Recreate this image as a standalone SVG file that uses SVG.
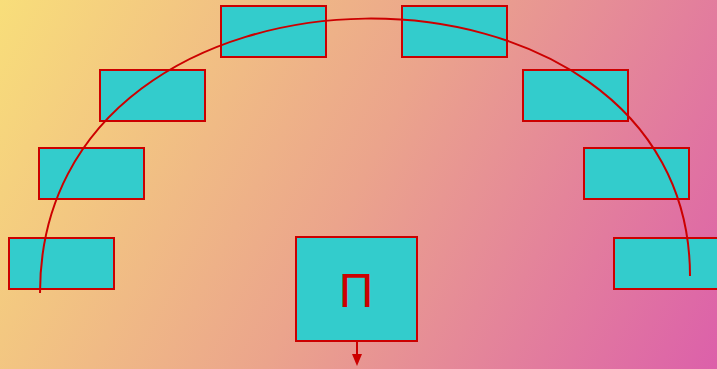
<svg xmlns="http://www.w3.org/2000/svg" width="717" height="369" viewBox="0 0 717 369">
<defs>
<linearGradient id="bg" gradientUnits="userSpaceOnUse" x1="0" y1="0" x2="717" y2="369">
<stop offset="0" stop-color="#F8DE7A"/>
<stop offset="0.5" stop-color="#EBA48C"/>
<stop offset="1" stop-color="#DC60AA"/>
</linearGradient>
<marker id="arrow" markerWidth="12" markerHeight="10" refX="0" refY="5" orient="auto" markerUnits="userSpaceOnUse" viewBox="0 0 12 10">
<path d="M0,0 L12,5 L0,10 Z" fill="#CC0000"/>
</marker>
<style>
.box{fill:#33CCCC;stroke:#CC0000;stroke-width:2}
.conn{fill:none;stroke:#CC0000;stroke-width:2}
.lbl{font-family:"Liberation Sans",Arial,sans-serif;font-size:48px;fill:#CC0000;text-anchor:middle}
</style>
</defs>
<rect x="0" y="0" width="717" height="369" fill="url(#bg)"/>
<g id="n1"><rect class="box" x="221" y="6" width="105" height="51"/></g>
<g id="n2"><rect class="box" x="402" y="6" width="105" height="51"/></g>
<g id="n3"><rect class="box" x="100" y="70" width="105" height="51"/></g>
<g id="n4"><rect class="box" x="523" y="70" width="105" height="51"/></g>
<g id="n5"><rect class="box" x="39" y="148" width="105" height="51"/></g>
<g id="n6"><rect class="box" x="584" y="148" width="105" height="51"/></g>
<g id="n7"><rect class="box" x="9" y="238" width="105" height="51"/></g>
<g id="n8"><rect class="box" x="614" y="238" width="105" height="51"/></g>
<g id="n9"><rect class="box" x="296" y="237" width="121" height="104"/><text class="lbl" x="356" y="307">П</text></g>
<g id="connectors">
<path class="conn" d="M40,293 C40,-70 690,-70 690,276"/>
<path class="conn" d="M357,341 L357,354" marker-end="url(#arrow)"/>
</g>
</svg>
